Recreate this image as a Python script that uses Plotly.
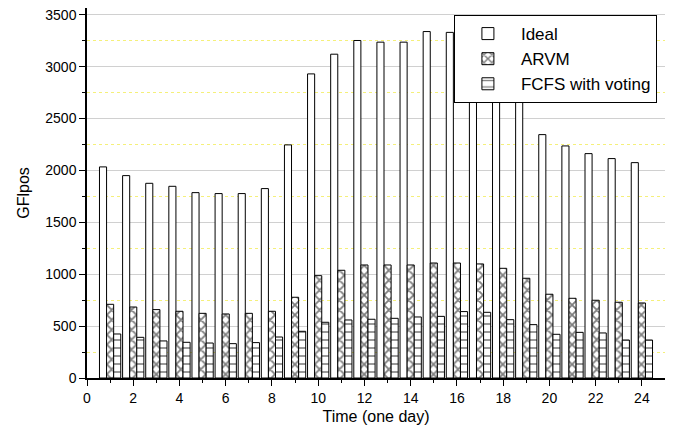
import plotly.graph_objects as go

hours = list(range(1, 25))
ideal = [2034, 1950, 1876, 1847, 1786, 1777, 1777, 1825, 2246, 2930, 3120, 3252,
         3236, 3236, 3338, 3330, 3310, 3240, 3050, 2345, 2236, 2162, 2114, 2075]
arvm = [710, 684, 659, 643, 623, 617, 623, 643, 778, 986, 1038, 1089,
        1089, 1089, 1108, 1108, 1099, 1057, 961, 807, 768, 749, 730, 723]
fcfs = [424, 392, 357, 344, 337, 331, 341, 395, 450, 537, 559, 566,
        575, 588, 594, 640, 633, 562, 514, 421, 440, 434, 366, 366]

x_ticks = list(range(0, 25, 2))
y_ticks = list(range(0, 3501, 500))

FONT = "Liberation Sans, Arial, sans-serif"

fig = go.Figure()
fig.add_trace(go.Bar(
    x=hours, y=ideal, name="Ideal",
    marker=dict(color="white", line=dict(color="black", width=1)),
))
fig.add_trace(go.Bar(
    x=hours, y=arvm, name="ARVM",
    marker=dict(color="white", line=dict(color="black", width=1),
                pattern=dict(shape="x", fgcolor="black", bgcolor="white",
                             size=7, solidity=0.45)),
))
fig.add_trace(go.Bar(
    x=hours, y=fcfs, name="FCFS with voting",
    marker=dict(color="white", line=dict(color="black", width=1),
                pattern=dict(shape="-", fgcolor="black", bgcolor="white",
                             size=8, solidity=0.2)),
))

fig.update_layout(
    width=669, height=431,
    margin=dict(l=79, r=12, t=0, b=61, autoexpand=False),
    paper_bgcolor="white", plot_bgcolor="white",
    barmode="group", bargap=0.08, bargroupgap=0,
    font=dict(family=FONT, color="black", size=14),
    showlegend=True,
    legend=dict(
        x=0.986, xanchor="right", y=0.981, yanchor="top",
        bgcolor="white", bordercolor="black", borderwidth=1,
        font=dict(family=FONT, size=17, color="black"),
        itemwidth=56, tracegroupgap=0,
    ),
)

fig.update_xaxes(
    automargin=False,
    range=[0, 25], tickmode="array", tickvals=x_ticks,
    ticktext=[str(v) for v in x_ticks],
    ticks="outside", ticklen=6, tickwidth=1, tickcolor="black",
    showline=True, linecolor="black", linewidth=1.5,
    showgrid=False, zeroline=False, ticklabeloverflow="allow",
    tickfont=dict(family=FONT, size=14),
    title=dict(text="Time (one day)", font=dict(family=FONT, size=16), standoff=6),
    minor=dict(tickmode="array", tickvals=list(range(1, 25, 2)), ticks="outside",
               ticklen=3, tickcolor="black", showgrid=False),
)
fig.update_yaxes(
    automargin=False,
    range=[0, 3565], tickmode="array", tickvals=y_ticks,
    ticktext=[str(v) for v in y_ticks],
    ticks="outside", ticklen=6, tickwidth=1, tickcolor="black",
    showline=True, linecolor="black", linewidth=1.5,
    showgrid=True, gridcolor="#d0d0d0", gridwidth=1,
    zeroline=False, ticklabeloverflow="allow",
    tickfont=dict(family=FONT, size=14),
    title=dict(text="GFlpos", font=dict(family=FONT, size=16), standoff=12),
    minor=dict(tickmode="array", tickvals=list(range(250, 3600, 500)), ticks="outside",
               ticklen=3, tickcolor="black", showgrid=True,
               gridcolor="#f5f07a", griddash="dot", gridwidth=1),
)

fig.write_html("out.html")
